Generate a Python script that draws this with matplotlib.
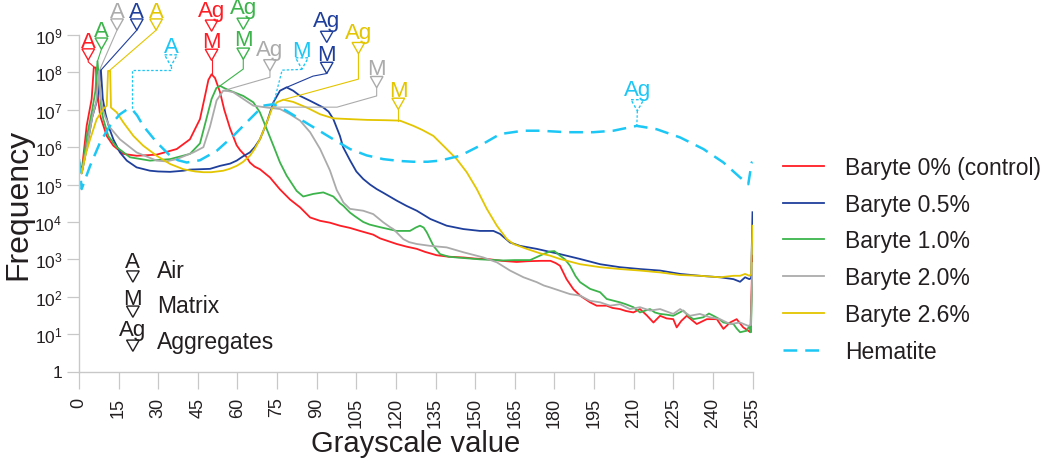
import numpy as np
import matplotlib
matplotlib.use('Agg')
import matplotlib.pyplot as plt
from matplotlib.patches import Polygon
from matplotlib.ticker import FixedLocator, FuncFormatter

plt.rcParams['font.family'] = ['Liberation Sans', 'DejaVu Sans']
plt.rcParams['mathtext.default'] = 'regular'

# values: grayscale value and log10(frequency)
red_x = [0, 1, 2.9, 4.8, 5.6, 6.4, 6.8, 8.0, 10.5, 13.0, 16.8, 21.8, 29.4, 37.0, 42.0, 45.8, 47.7, 49.0,
         50.2, 51.5, 53.4, 55.0, 57.2, 59.7, 61.0, 63.5, 64.7, 66.5, 68.5, 72.3, 76.1, 79.9, 83.7, 87.5,
         91.3, 95.0, 98.8, 102.6, 106.4, 111.4, 114.0, 120.3, 124.0, 127.9, 131.0, 135.4, 140.0, 145.5,
         150.0, 155.6, 160.0, 165.7, 170.0, 175.0, 178.5, 180.5, 182.1, 184.6, 187.2, 189.7, 193.5, 196.0,
         199.8, 202.0, 204.8, 207.0, 209.9, 212.4, 215.0, 217.5, 220.0, 222.5, 225.0, 226.3, 228.0, 230.1,
         233.9, 237.7, 241.5, 244.0, 246.5, 249.0, 251.5, 253.4, 254.2, 255.0]
red_log = [5.64, 5.33, 6.57, 7.29, 8.13, 8.13, 7.55, 6.84, 6.30, 6.04, 5.82, 5.77, 5.80, 5.95, 6.21, 6.75,
           7.37, 7.80, 7.95, 7.85, 7.47, 7.00, 6.50, 6.05, 5.92, 5.73, 5.59, 5.48, 5.41, 5.19, 4.87, 4.60,
           4.39, 4.12, 4.03, 3.98, 3.90, 3.84, 3.76, 3.66, 3.56, 3.41, 3.34, 3.28, 3.20, 3.11, 3.07, 3.05,
           3.02, 3.00, 2.96, 2.93, 2.95, 2.96, 2.96, 2.90, 2.83, 2.47, 2.20, 2.03, 1.85, 1.76, 1.76, 1.70,
           1.67, 1.62, 1.58, 1.67, 1.50, 1.31, 1.49, 1.42, 1.40, 1.18, 1.35, 1.49, 1.27, 1.40, 1.40, 1.14,
           1.31, 1.40, 1.18, 1.09, 1.05, 3.10]

blue_x = [0, 1, 3, 5, 7, 8.3, 9.0, 10.0, 11.5, 13.0, 15.5, 18.1, 21.8, 26.9, 30.0, 34.5, 39.5, 42.0, 45.8,
          49.6, 53.4, 57.2, 59.7, 62.0, 64.7, 66.5, 68.5, 71.1, 73.6, 76.1, 78.6, 81.1, 83.7, 87.5, 92.5,
          94.5, 96.3, 98.8, 100.0, 102.6, 105.0, 107.6, 110.2, 112.7, 115.2, 120.3, 124.0, 127.9, 133.0,
          139.2, 145.5, 151.8, 156.9, 159.4, 163.2, 167.0, 173.3, 178.3, 182.1, 189.7, 197.3, 204.8, 212.4,
          220.0, 227.6, 235.1, 242.7, 247.8, 250.3, 252.2, 253.8, 254.5, 255.0]
blue_log = [5.60, 5.30, 6.00, 6.80, 7.30, 8.06, 7.30, 6.90, 6.50, 6.21, 5.86, 5.64, 5.46, 5.37, 5.35, 5.34,
            5.37, 5.40, 5.41, 5.42, 5.50, 5.56, 5.64, 5.75, 5.86, 6.00, 6.21, 6.66, 7.20, 7.51, 7.60, 7.51,
            7.37, 7.24, 7.06, 6.95, 6.75, 6.30, 6.00, 5.65, 5.35, 5.15, 5.00, 4.88, 4.78, 4.57, 4.43, 4.30,
            4.08, 3.90, 3.81, 3.76, 3.76, 3.68, 3.45, 3.36, 3.28, 3.20, 3.14, 3.01, 2.87, 2.79, 2.74, 2.70,
            2.61, 2.56, 2.52, 2.47, 2.40, 2.52, 2.47, 2.50, 4.26]

green_x = [0, 1, 3, 5, 6.2, 7.0, 7.8, 8.5, 9.2, 11.1, 14.3, 19.3, 26.9, 34.5, 42.0, 45.8, 48.4, 50.2, 52.0,
           53.4, 55.0, 57.2, 62.2, 66.0, 68.5, 71.1, 73.6, 76.1, 78.6, 82.4, 84.9, 88.7, 92.5, 96.3, 98.8,
           100.1, 102.6, 104.5, 107.6, 110.0, 114.0, 120.3, 125.3, 127.5, 129.1, 130.5, 131.7, 134.2, 136.7,
           140.0, 143.0, 151.8, 160.7, 165.0, 170.8, 173.0, 175.8, 178.3, 180.0, 182.1, 184.0, 185.9, 188.0,
           189.7, 193.5, 197.3, 199.8, 204.8, 207.0, 209.9, 212.4, 214.0, 216.2, 218.0, 220.0, 222.5, 225.0,
           228.8, 230.5, 232.6, 236.4, 238.5, 240.2, 242.0, 244.0, 247.8, 249.0, 250.3, 252.8, 253.8, 254.4,
           255.0]
green_log = [5.62, 5.30, 6.30, 7.00, 7.50, 8.30, 7.60, 7.00, 6.75, 6.30, 6.00, 5.73, 5.64, 5.68, 5.82, 6.10,
             6.80, 7.29, 7.58, 7.64, 7.58, 7.51, 7.37, 7.20, 6.93, 6.48, 6.04, 5.59, 5.24, 4.83, 4.68, 4.75,
             4.79, 4.68, 4.50, 4.43, 4.25, 4.15, 4.00, 3.93, 3.86, 3.76, 3.76, 3.85, 3.90, 3.85, 3.72, 3.36,
             3.14, 3.07, 3.05, 3.00, 2.97, 2.98, 2.98, 3.05, 3.14, 3.21, 3.22, 3.10, 3.00, 2.83, 2.55, 2.39,
             2.21, 2.12, 1.94, 1.85, 1.80, 1.72, 1.58, 1.62, 1.67, 1.58, 1.54, 1.52, 1.49, 1.63, 1.50, 1.40,
             1.45, 1.55, 1.49, 1.42, 1.31, 1.27, 1.15, 1.05, 1.09, 1.22, 1.05, 2.80]

gray_x = [0, 1, 3, 5, 6.5, 7.6, 8.3, 9.0, 10.0, 11.7, 15.5, 21.8, 29.4, 33.0, 37.0, 43.3, 47.1, 49.6, 52.1,
          54.6, 56.5, 58.4, 62.2, 66.0, 71.1, 76.1, 79.9, 83.7, 87.5, 91.3, 95.0, 97.6, 98.8, 100.1, 102.6,
          107.6, 111.4, 115.2, 117.8, 119.0, 122.8, 125.0, 127.9, 133.0, 139.2, 145.5, 153.1, 158.2, 163.2,
          168.3, 173.3, 176.0, 178.3, 182.1, 185.9, 189.7, 193.5, 197.3, 201.1, 204.8, 208.6, 212.4, 216.2,
          220.0, 225.0, 227.6, 231.3, 235.1, 238.9, 242.7, 246.5, 250.3, 253.4, 254.4, 255.0]
gray_log = [5.62, 5.30, 6.00, 6.80, 7.20, 8.03, 7.30, 7.00, 6.80, 6.53, 6.21, 5.86, 5.64, 5.62, 5.68, 5.86,
            6.00, 6.55, 7.25, 7.51, 7.50, 7.47, 7.29, 7.11, 7.06, 7.02, 6.88, 6.71, 6.40, 5.95, 5.38, 4.85,
            4.70, 4.52, 4.35, 4.30, 4.21, 3.99, 3.86, 3.81, 3.54, 3.46, 3.41, 3.36, 3.32, 3.19, 3.05, 2.92,
            2.70, 2.52, 2.39, 2.30, 2.25, 2.16, 2.07, 2.03, 1.89, 1.85, 1.76, 1.80, 1.67, 1.72, 1.63, 1.67,
            1.54, 1.67, 1.49, 1.54, 1.45, 1.40, 1.27, 1.31, 1.22, 1.25, 2.90]

yellow_x = [0, 1, 2.5, 4.2, 6.7, 9.2, 10.5, 11.0, 11.8, 12.1, 14.3, 16.8, 20.6, 24.3, 29.4, 34.5, 39.5, 44.0,
            47.1, 50.0, 54.6, 57.0, 59.7, 62.0, 64.7, 66.5, 68.5, 71.1, 73.0, 74.9, 77.4, 81.1, 86.2, 91.3,
            96.3, 102.6, 108.9, 116.5, 121.5, 126.6, 130.0, 134.2, 139.2, 143.0, 146.8, 150.6, 154.4, 158.2,
            162.0, 164.5, 169.5, 174.6, 178.3, 182.1, 189.7, 197.3, 204.8, 212.4, 220.0, 227.6, 235.1, 242.7,
            247.8, 250.3, 252.2, 253.8, 254.5, 255.0]
yellow_log = [5.55, 5.30, 5.80, 6.21, 6.75, 7.02, 7.11, 8.04, 8.04, 7.06, 6.93, 6.66, 6.30, 6.04, 5.77, 5.55,
              5.41, 5.35, 5.33, 5.33, 5.37, 5.42, 5.50, 5.60, 5.77, 5.95, 6.21, 6.66, 7.02, 7.20, 7.27, 7.21,
              7.06, 6.88, 6.77, 6.75, 6.73, 6.72, 6.71, 6.57, 6.46, 6.30, 5.95, 5.68, 5.33, 4.88, 4.35, 3.90,
              3.54, 3.41, 3.28, 3.16, 3.10, 3.01, 2.87, 2.79, 2.74, 2.70, 2.65, 2.58, 2.56, 2.52, 2.56, 2.56,
              2.61, 2.56, 2.60, 3.90]

hem_x = [0, 1, 4.2, 8.0, 11.7, 15.5, 18.0, 20.0, 22.0, 24.3, 29.4, 34.5, 37.5, 40.8, 45.8, 52.1, 58.4, 64.7,
         69.8, 73.6, 78.6, 83.7, 90.0, 96.3, 102.6, 108.9, 115.2, 121.5, 126.6, 132.0, 136.7, 144.3, 151.8,
         159.4, 168.2, 174.6, 184.6, 194.7, 202.3, 211.2, 218.7, 227.6, 236.4, 244.0, 250.3, 253.4, 254.7,
         255.0]
hem_log = [5.68, 4.88, 5.50, 6.13, 6.57, 6.88, 7.00, 7.02, 6.85, 6.57, 6.13, 5.77, 5.65, 5.59, 5.65, 5.90,
           6.30, 6.75, 7.11, 7.15, 6.97, 6.75, 6.48, 6.21, 5.95, 5.78, 5.68, 5.63, 5.61, 5.61, 5.64, 5.77,
           6.04, 6.35, 6.44, 6.44, 6.40, 6.40, 6.44, 6.57, 6.48, 6.26, 5.95, 5.59, 5.19, 5.01, 5.59, 5.60]

labels = ['Baryte 0% (control)', 'Baryte 0.5%', 'Baryte 1.0%', 'Baryte 2.0%', 'Baryte 2.6%', 'Hematite']
x_ticks = list(range(0, 256, 15))
y_exponents = list(range(0, 10))

RED, BLUE, GREEN, GRAY, YELLOW, CYAN = '#ff1d25', '#1f3f9c', '#3cb44b', '#ababab', '#e3c500', '#1cc7f5'
DARK = '#231f20'

series = [
    (red_x, red_log, RED, '-'),
    (blue_x, blue_log, BLUE, '-'),
    (green_x, green_log, GREEN, '-'),
    (gray_x, gray_log, GRAY, '-'),
    (yellow_x, yellow_log, YELLOW, '-'),
    (hem_x, hem_log, CYAN, '--'),
]

fig = plt.figure(figsize=(10.5, 4.6), dpi=100)
ax = fig.add_axes([79 / 1050, 1 - 372.5 / 460, (752.5 - 79) / 1050, (372.5 - 36) / 460])

handles = []
for xs, ls_, c, style in series:
    if style == '--':
        h, = ax.plot(xs, 10 ** np.array(ls_), color=c, lw=1.8, dashes=(5.5, 3.2))
    else:
        h, = ax.plot(xs, 10 ** np.array(ls_), color=c, lw=1.3)
    handles.append(h)

ax.set_yscale('log')
ax.set_xlim(0, 255)
ax.set_ylim(1, 1e9)
ax.xaxis.set_major_locator(FixedLocator(x_ticks))
ax.yaxis.set_major_locator(FixedLocator([10.0 ** e for e in y_exponents]))
ax.yaxis.set_minor_locator(FixedLocator([]))
ax.yaxis.set_major_formatter(FuncFormatter(
    lambda v, p: '1' if v <= 1 else '$10^{%d}$' % round(np.log10(v))))
ax.tick_params(axis='x', length=12, width=0.9, color='#c8c8c8', labelcolor=DARK,
               labelsize=13, labelrotation=90, pad=6)
ax.tick_params(axis='y', length=9, width=0.9, color='#c8c8c8', labelcolor=DARK, labelsize=12.5, pad=3)
for s in ['top', 'right']:
    ax.spines[s].set_visible(False)
for s in ['left', 'bottom']:
    ax.spines[s].set_color('#c8c8c8')
    ax.spines[s].set_linewidth(1.0)
ax.set_xlabel('Grayscale value', fontsize=21, color=DARK, labelpad=2)
ax.set_ylabel('Frequency', fontsize=23, color=DARK, labelpad=1)


def tri(x, top, color, dashed=False):
    pts = [(x - 2.4, 10 ** top), (x + 2.4, 10 ** top), (x, 10 ** (top - 0.30))]
    ax.add_patch(Polygon(pts, closed=True, fill=False, edgecolor=color, lw=1.0,
                         ls=(0, (2, 1.5)) if dashed else '-', clip_on=False, joinstyle='miter'))


def lookup(xs, ls_, x):
    return float(np.interp(x, xs, ls_))


# annotations: colour, column x, letter stacks (text, baseline, triangle top), leader path, end x, series, dashed
annotations = [
    (RED, 3.5, [('A', 8.68, 8.63)], [(3.5, 8.28)], 5.9, (red_x, red_log), False),
    (GREEN, 8.5, [('A', 8.97, 8.92)], [], 7.0, (green_x, green_log), False),
    (GRAY, 14.4, [('A', 9.48, 9.43)], [], 7.6, (gray_x, gray_log), False),
    (BLUE, 21.9, [('A', 9.48, 9.43)], [], 8.3, (blue_x, blue_log), False),
    (YELLOW, 29.2, [('A', 9.48, 9.43)], [], 11.4, (yellow_x, yellow_log), False),
    (CYAN, 34.8, [('A', 8.54, 8.47)], [(34.8, 8.06), (20.0, 8.06)], 20.0, (hem_x, hem_log), True),
    (RED, 50.2, [('Ag', 9.52, 9.40), ('M', 8.68, 8.62)], [], 50.2, (red_x, red_log), False),
    (GREEN, 62.2, [('Ag', 9.58, 9.45), ('M', 8.72, 8.65)], [(62.2, 8.09)], 53.4, (green_x, green_log), False),
    (GRAY, 72.3, [('Ag', 8.46, 8.34)], [(72.3, 7.87)], 54.6, (gray_x, gray_log), False),
    (CYAN, 84.4, [('M', 8.44, 8.39)], [(84.4, 8.08), (76.9, 8.06)], 73.6, (hem_x, hem_log), True),
    (BLUE, 93.8, [('Ag', 9.23, 9.10), ('M', 8.32, 8.27)], [(88.6, 7.90)], 78.6, (blue_x, blue_log), False),
    (YELLOW, 105.8, [('Ag', 8.91, 8.80)], [(105.8, 7.82)], 77.4, (yellow_x, yellow_log), False),
    (GRAY, 112.7, [('M', 7.95, 7.89)], [(112.7, 7.37), (97.7, 7.07)], 70.0, (gray_x, gray_log), False),
    (YELLOW, 120.9, [('M', 7.37, 7.31)], [], 120.9, (yellow_x, yellow_log), False),
    (CYAN, 211.4, [('Ag', 7.39, 7.27)], [], 211.2, (hem_x, hem_log), True),
]

for color, cx, stack, path, end_x, (sx, sl), dashed in annotations:
    for txt, base, ttop in stack:
        ax.text(cx, 10 ** base, txt, color=color, fontsize=16, ha='center', va='baseline', clip_on=False)
        tri(cx, ttop, color, dashed)
    start = stack[-1][2] - 0.30
    px = [cx] + [p[0] for p in path] + [end_x]
    py = [start] + [p[1] for p in path] + [lookup(sx, sl, end_x)]
    if dashed:
        ax.plot(px, 10 ** np.array(py), color=color, lw=0.9, dashes=(2, 1.5), clip_on=False)
    else:
        ax.plot(px, 10 ** np.array(py), color=color, lw=0.8, clip_on=False)

# cyan Ag leader has a short foot to the right
ax.plot([211.2, 214.5], [10 ** lookup(hem_x, hem_log, 211.2)] * 2, color=CYAN, lw=0.9, dashes=(2, 1.5))

# key for the letters
key = [('A', 'Air', 2.79, 2.69, 2.53), ('M', 'Matrix', 1.80, 1.75, 1.59), ('Ag', 'Aggregates', 0.97, 0.84, 0.63)]
for sym, name, base, ttop, lbase in key:
    ax.text(20.4, 10 ** base, sym, color=DARK, fontsize=16, ha='center', va='baseline')
    tri(20.4, ttop, DARK)
    ax.text(29.5, 10 ** lbase, name, color=DARK, fontsize=16.5, ha='left', va='baseline')

fig.legend(handles, labels, loc='upper left', bbox_to_anchor=(783 / 1050, 1 - 157 / 460),
           frameon=False, fontsize=16.5, handlelength=1.8, handletextpad=0.9, labelspacing=0.6,
           borderpad=0, borderaxespad=0, labelcolor=DARK)

fig.savefig('out.png', dpi=100)
